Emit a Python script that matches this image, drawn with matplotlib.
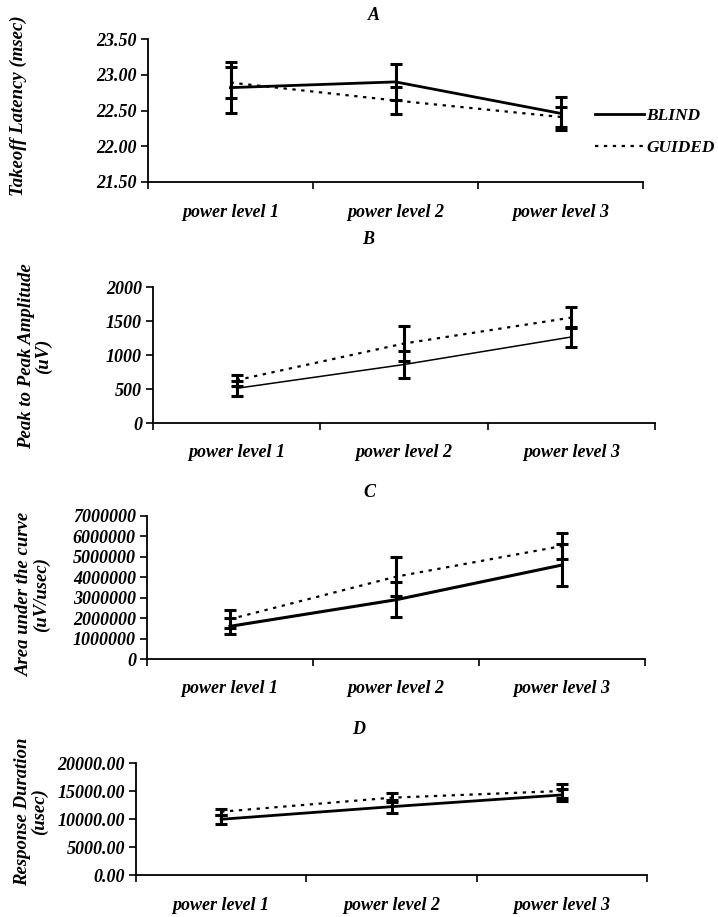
import matplotlib
matplotlib.use("Agg")
import matplotlib.pyplot as plt
from matplotlib.ticker import FixedLocator, NullFormatter, FuncFormatter

plt.rcParams['font.family'] = ['Liberation Serif', 'DejaVu Serif']
plt.rcParams['font.weight'] = 'bold'
plt.rcParams['font.style'] = 'italic'

levels = ['power level 1', 'power level 2', 'power level 3']

# A: takeoff latency (msec)
lat_blind = [22.82, 22.90, 22.46]
lat_blind_err = [0.36, 0.25, 0.23]
lat_guided = [22.89, 22.64, 22.41]
lat_guided_err = [0.22, 0.19, 0.14]

# B: peak to peak amplitude (uV)
amp_blind = [510, 860, 1265]
amp_blind_err = [110, 200, 140]
amp_guided = [630, 1169, 1550]
amp_guided_err = [80, 257, 150]

# C: area under the curve (uV/usec)
area_blind = [1600000, 2900000, 4600000]
area_blind_err = [400000, 860000, 1020000]
area_guided = [1950000, 4030000, 5530000]
area_guided_err = [430000, 940000, 650000]

# D: response duration (usec)
dur_blind = [9950, 12200, 14300]
dur_blind_err = [800, 1200, 1000]
dur_guided = [11300, 13800, 15000]
dur_guided_err = [500, 800, 1200]

panels = [
    dict(title='A', ylabel='Takeoff Latency (msec)', ylim=(21.5, 23.5), yticks=[21.5, 22.0, 22.5, 23.0, 23.5],
         fmt='{:.2f}', blind=lat_blind, berr=lat_blind_err, guided=lat_guided, gerr=lat_guided_err,
         rect=[148, 39, 643, 182], lw=2.0, title_xy=(368, 15), xl_y=207, lab=(18, 106)),
    dict(title='B', ylabel='Peak to Peak Amplitude\n(uV)', ylim=(0, 2000), yticks=[0, 500, 1000, 1500, 2000],
         fmt='{:.0f}', blind=amp_blind, berr=amp_blind_err, guided=amp_guided, gerr=amp_guided_err,
         rect=[153, 287, 655, 423], lw=1.1, title_xy=(362, 240), xl_y=447, lab=(35, 356)),
    dict(title='C', ylabel='Area under the curve\n(uV/usec)', ylim=(0, 7000000),
         yticks=[0, 1000000, 2000000, 3000000, 4000000, 5000000, 6000000, 7000000],
         fmt='{:.0f}', blind=area_blind, berr=area_blind_err, guided=area_guided, gerr=area_guided_err,
         rect=[147, 516, 645, 659], lw=2.2, title_xy=(363, 493), xl_y=683, lab=(33, 594)),
    dict(title='D', ylabel='Response Duration\n(usec)', ylim=(0, 20000), yticks=[0, 5000, 10000, 15000, 20000],
         fmt='{:.2f}', blind=dur_blind, berr=dur_blind_err, guided=dur_guided, gerr=dur_guided_err,
         rect=[136, 763, 647, 875], lw=2.0, title_xy=(352, 730), xl_y=900, lab=(31, 812)),
]

W, H = 718, 917
fig = plt.figure(figsize=(W / 100, H / 100), dpi=100)

xs = [0.5, 1.5, 2.5]
for p in panels:
    l, t, r, b = p['rect']
    ax = fig.add_axes([l / W, 1 - b / H, (r - l) / W, (b - t) / H])
    ax.plot(xs, p['blind'], color='black', lw=p['lw'], label='BLIND')
    ax.plot(xs, p['guided'], color='black', lw=1.6, ls=(0, (1.5, 2.5)), label='GUIDED')
    ax.errorbar(xs, p['blind'], yerr=p['berr'], fmt='none', ecolor='black', elinewidth=2.2,
                capsize=4, capthick=2.2)
    ax.errorbar(xs, p['guided'], yerr=p['gerr'], fmt='none', ecolor='black', elinewidth=2.2,
                capsize=4, capthick=2.2)
    ax.set_xlim(0, 3)
    ax.set_ylim(*p['ylim'])
    ax.set_yticks(p['yticks'])
    fmt = p['fmt']
    ax.yaxis.set_major_formatter(FuncFormatter(lambda v, pos, fmt=fmt: fmt.format(v)))
    ax.xaxis.set_major_locator(FixedLocator([0, 1, 2, 3]))
    ax.xaxis.set_major_formatter(NullFormatter())
    ax.xaxis.set_minor_locator(FixedLocator(xs))
    ax.set_xticklabels(levels, minor=True)
    ax.tick_params(axis='x', which='minor', length=0, labelsize=13, pad=(p['xl_y'] - b) - 9)
    ax.tick_params(axis='x', which='major', length=5, width=1.2, direction='out')
    ax.tick_params(axis='y', length=5, width=1.2, labelsize=13, pad=3)
    for s in ('top', 'right'):
        ax.spines[s].set_visible(False)
    for s in ('left', 'bottom'):
        ax.spines[s].set_linewidth(1.3)
    fig.text(p['lab'][0] / W, 1 - p['lab'][1] / H, p['ylabel'], fontsize=13.5, fontweight='bold',
             rotation=90, ha='center', va='center', multialignment='center', linespacing=1.0)
    fig.text(p['title_xy'][0] / W, 1 - p['title_xy'][1] / H, p['title'], fontsize=13,
             ha='left', va='center')
    p['ax'] = ax

axA = panels[0]['ax']
axA.legend(loc='center left', bbox_to_anchor=(595 / W, 1 - 132 / H), bbox_transform=fig.transFigure,
           frameon=False, borderpad=0, borderaxespad=0, handlelength=2.8, handletextpad=0.15,
           labelspacing=0.9, fontsize=12.5)

fig.savefig('out.png', dpi=100)
